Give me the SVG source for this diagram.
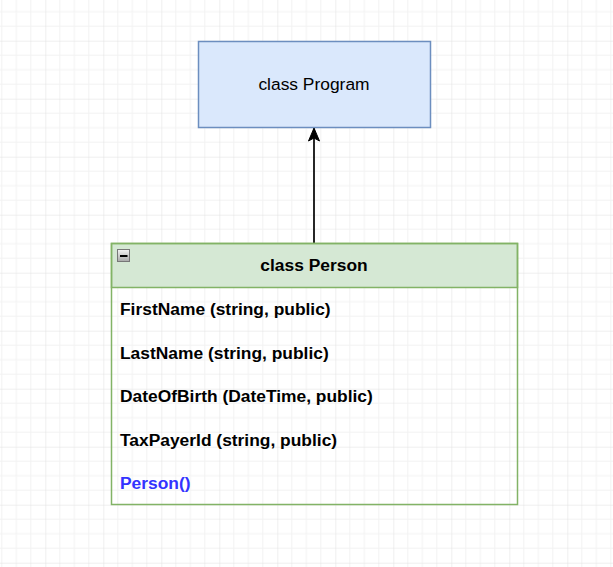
<svg xmlns="http://www.w3.org/2000/svg" width="613" height="567" viewBox="0 0 613 567">
  <defs>
    <pattern id="grid" x="45.3" y="40.7" width="58" height="58" patternUnits="userSpaceOnUse">
      <path d="M14.5 0V58M29 0V58M43.5 0V58M0 14.5H58M0 29H58M0 43.5H58" fill="none" stroke="#f2f2f2" stroke-width="1"/>
      <path d="M0 0V58M0 0H58" fill="none" stroke="#e0e0e0" stroke-width="1"/>
    </pattern>
    <linearGradient id="iconGrad" x1="0" y1="0" x2="0" y2="1">
      <stop offset="0" stop-color="#f4f4f4"/>
      <stop offset="1" stop-color="#a8a8a8"/>
    </linearGradient>
    <marker id="arrow" viewBox="0 0 14 12" refX="13.5" refY="6" markerWidth="14" markerHeight="12" markerUnits="userSpaceOnUse" orient="auto">
      <path d="M13.5 6L0.5 0.5L3.5 6L0.5 11.5Z" fill="#000" stroke="#000" stroke-width="1"/>
    </marker>
    <style>
      .lbl { font-family: "Liberation Sans", Arial, sans-serif; font-size: 17.4px; fill: #000; }
      .b { font-weight: bold; }
    </style>
  </defs>
  <rect x="0" y="0" width="613" height="567" fill="#ffffff"/>
  <rect x="0" y="0" width="613" height="567" fill="url(#grid)"/>

  <g id="connectors">
    <line x1="314" y1="243.5" x2="314" y2="128" stroke="#000" stroke-width="1.7" marker-end="url(#arrow)"/>
  </g>

  <g id="program">
    <rect x="198.5" y="41.5" width="232" height="86" fill="#dae8fc" stroke="#6c8ebf" stroke-width="1.5"/>
    <text class="lbl" x="314" y="90" text-anchor="middle">class Program</text>
  </g>

  <g id="person">
    <rect x="111.5" y="243.5" width="406" height="44" fill="#d5e8d4" stroke="#82b366" stroke-width="1.5"/>
    <rect x="111.5" y="243.5" width="406" height="261" fill="none" stroke="#82b366" stroke-width="1.5"/>
    <rect x="117.5" y="249.5" width="12" height="12" fill="url(#iconGrad)" stroke="#777" stroke-width="1"/>
    <rect x="120" y="255" width="7.5" height="2" fill="#000"/>
    <text class="lbl b" x="314" y="271" text-anchor="middle">class Person</text>
    <text class="lbl b" x="120" y="315">FirstName (string, public)</text>
    <text class="lbl b" x="120" y="358.5">LastName (string, public)</text>
    <text class="lbl b" x="120" y="402">DateOfBirth (DateTime, public)</text>
    <text class="lbl b" x="120" y="445.5">TaxPayerId (string, public)</text>
    <text class="lbl b" x="120" y="489" style="fill:#3333ff">Person()</text>
  </g>
</svg>
